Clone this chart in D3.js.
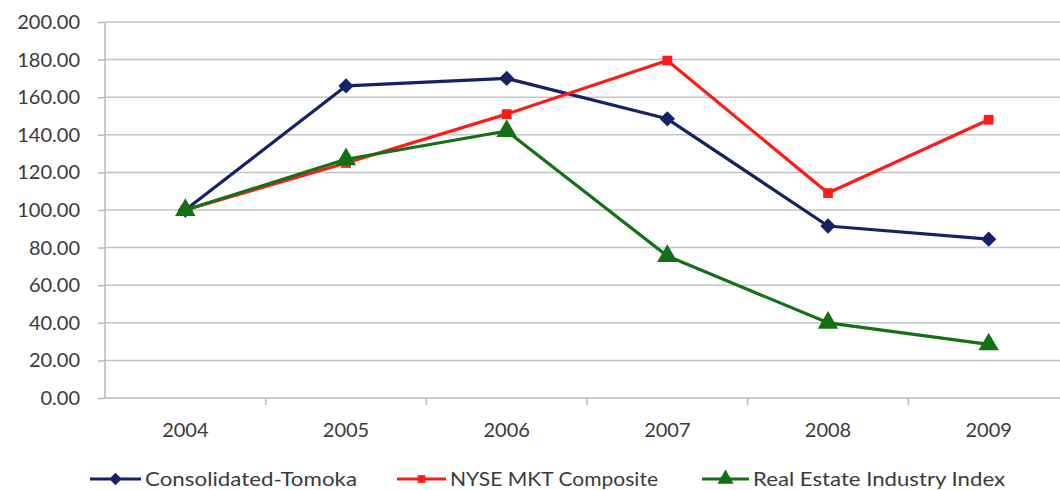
<!DOCTYPE html>
<html><head><meta charset="utf-8">
<script src="https://cdn.jsdelivr.net/npm/d3@7/dist/d3.min.js"></script>
<style>body{margin:0;background:#fff}svg{display:block}text{font-family:Lato,"Liberation Sans",sans-serif}</style>
</head><body><svg id="c" width="1060" height="490"></svg>
<script>
const years = ["2004","2005","2006","2007","2008","2009"];
const tomoka = [100, 166, 170, 148.5, 91.5, 84.5];
const nyse = [100, 125, 151, 179.5, 109, 148];
const realEstate = [100, 127, 142, 75.5, 40, 28.5];
const yTicks = [0,20,40,60,80,100,120,140,160,180,200];
const seriesNames = ["Consolidated-Tomoka","NYSE MKT Composite","Real Estate Industry Index"];
const seriesColors = ["#14226a","#ff1a1a","#147014"];
const seriesMarkers = ["diamond","square","triangle"];
const seriesData = [tomoka, nyse, realEstate];

const svg = d3.select("#c");
const mLeft = 105, mRight = 1069, mTop = 22, mBottom = 398;
const x = d3.scaleBand().domain(years).range([mLeft, mRight]);
const y = d3.scaleLinear().domain([0,200]).range([mBottom, mTop]);

// gridlines
svg.append("g").selectAll("line").data(yTicks.filter(d=>d>0)).join("line")
  .attr("x1", mLeft).attr("x2", mRight).attr("y1", d=>y(d)).attr("y2", d=>y(d))
  .attr("stroke", "#c4c4c4").attr("stroke-width", 1.5);

// y axis
const yAxis = d3.axisLeft(y).tickValues(yTicks).tickSize(7).tickPadding(18).tickFormat(d3.format(".2f"));
const gy = svg.append("g").attr("transform", `translate(${mLeft},0)`).call(yAxis);
gy.select(".domain").attr("stroke", "#b8b8b8").attr("stroke-width", 1.5).attr("d", `M0,${mTop}V${mBottom}`);
gy.selectAll(".tick line").attr("stroke", "#b8b8b8").attr("stroke-width", 1.5);
gy.selectAll(".tick text").attr("font-size", 20).attr("fill", "#3a3a3a");

// x axis
const xAxis = d3.axisBottom(x).tickSize(0).tickPadding(25);
const gx = svg.append("g").attr("transform", `translate(0,${mBottom})`).call(xAxis);
gx.select(".domain").attr("stroke", "#b8b8b8").attr("stroke-width", 1.5).attr("d", `M${mLeft},0H${mRight}`);
gx.selectAll(".tick text").attr("font-size", 20).attr("fill", "#3a3a3a");
gx.append("g").selectAll("line").data(years).join("line")
  .attr("x1", d=>x(d) + x.step()).attr("x2", d=>x(d) + x.step())
  .attr("y1", 0).attr("y2", 7).attr("stroke", "#b8b8b8").attr("stroke-width", 1.5);

const cx = d => x(d) + x.bandwidth()/2;
const sym = {
  diamond: d3.symbol().type(d3.symbolDiamond2).size(150),
  square: d3.symbol().type(d3.symbolSquare).size(95),
  triangle: d3.symbol().type(d3.symbolTriangle).size(180)
};

seriesData.forEach((vals, si) => {
  const pts = years.map((yr,i)=>[cx(yr), y(vals[i])]);
  svg.append("path").attr("d", d3.line()(pts)).attr("fill","none")
    .attr("stroke", seriesColors[si]).attr("stroke-width", 3.2).attr("stroke-linejoin","round");
  svg.append("g").selectAll("path").data(pts).join("path")
    .attr("transform", d=>`translate(${d[0]},${d[1]})`)
    .attr("d", sym[seriesMarkers[si]]()).attr("fill", seriesColors[si]);
});

// legend
const legX = [90, 397, 702];
const legTextX = [145, 450, 753];
const legW = [212, 208, 252];
const ly = 479;
const lg = svg.append("g");
seriesNames.forEach((n, i) => {
  lg.append("line").attr("x1", legX[i]).attr("x2", legTextX[i]-4).attr("y1", ly).attr("y2", ly)
    .attr("stroke", seriesColors[i]).attr("stroke-width", 3.2);
  lg.append("path").attr("transform", `translate(${(legX[i]+legTextX[i]-4)/2},${ly})`)
    .attr("d", d3.symbol().type([d3.symbolDiamond2,d3.symbolSquare,d3.symbolTriangle][i]).size([100,60,115][i])())
    .attr("fill", seriesColors[i]);
  lg.append("text").attr("x", legTextX[i]).attr("y", 486).attr("font-size", 20)
    .attr("fill", "#3a3a3a").attr("textLength", legW[i]).attr("lengthAdjust","spacingAndGlyphs").text(n);
});
</script></body></html>
